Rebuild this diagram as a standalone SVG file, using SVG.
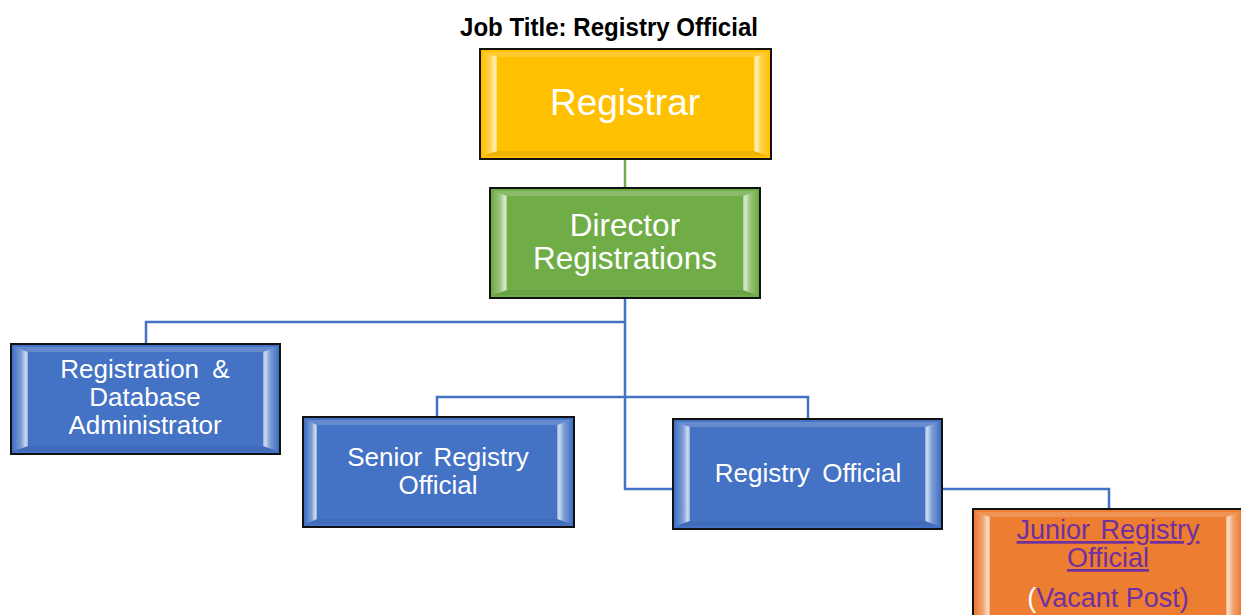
<svg xmlns="http://www.w3.org/2000/svg" width="1241" height="615" viewBox="0 0 1241 615">
<style>
.box{stroke:#111;stroke-width:2}
.yel{fill:#FFC000}.grn{fill:#70AD47}.blu{fill:#4472C4}.org{fill:#ED7D31}
.bl{fill:url(#gl)}.br{fill:url(#gr)}.bt{fill:#fff;fill-opacity:.18}.bb{fill:#000;fill-opacity:.06}
.t{font-family:"Liberation Sans",Arial,sans-serif;fill:#fff;text-anchor:middle}
.jr{font-family:"Liberation Sans",Arial,sans-serif;fill:#7030A0;text-anchor:middle;font-size:27px}
.conn{fill:none;stroke:#4472C4;stroke-width:2.5}
.cg{fill:none;stroke:#70AD47;stroke-width:2.5}
</style>
<defs>
<linearGradient id="gl" x1="0" y1="0" x2="1" y2="0">
<stop offset="0" stop-color="#fff" stop-opacity="0.05"/>
<stop offset="0.5" stop-color="#fff" stop-opacity="0.3"/>
<stop offset="0.85" stop-color="#fff" stop-opacity="0.75"/>
<stop offset="1" stop-color="#fff" stop-opacity="0.4"/>
</linearGradient>
<linearGradient id="gr" x1="1" y1="0" x2="0" y2="0">
<stop offset="0" stop-color="#fff" stop-opacity="0.05"/>
<stop offset="0.5" stop-color="#fff" stop-opacity="0.3"/>
<stop offset="0.85" stop-color="#fff" stop-opacity="0.75"/>
<stop offset="1" stop-color="#fff" stop-opacity="0.4"/>
</linearGradient>
</defs>
<rect width="1241" height="615" fill="#fff"/>
<text x="609" y="36" font-family="'Liberation Sans Narrow','Liberation Sans',Arial,sans-serif" font-weight="bold" font-size="25" text-anchor="middle" textLength="298" lengthAdjust="spacingAndGlyphs">Job Title: Registry Official</text>
<g id="connectors">
<path class="cg" d="M625 159V189"/>
<path class="conn" d="M625 298V489H672M625 322H146V344M625 397H437V417M625 397H808V419M942 489H1109V509"/>
</g>
<g id="registrar">
<rect class="box yel" x="480" y="49" width="291" height="110"/>
<polygon class="bt" points="483,52 768,52 754,57 497,57"/>
<polygon class="bb" points="483,156 768,156 754,151 497,151"/>
<polygon class="bl" points="483,52 497,57 497,151 483,156"/>
<polygon class="br" points="768,52 754,57 754,151 768,156"/>
<text class="t" x="625" y="115" font-size="37">Registrar</text>
</g>
<g id="director">
<rect class="box grn" x="490" y="188" width="270" height="110"/>
<polygon class="bt" points="493,191 757,191 743,196 507,196"/>
<polygon class="bb" points="493,295 757,295 743,290 507,290"/>
<polygon class="bl" points="493,191 507,196 507,290 493,295"/>
<polygon class="br" points="757,191 743,196 743,290 757,295"/>
<text class="t" x="625" y="236" font-size="31.5">Director</text>
<text class="t" x="625" y="269" font-size="31.5">Registrations</text>
</g>
<g id="regdb">
<rect class="box blu" x="11" y="344" width="269" height="110"/>
<polygon class="bt" points="14,347 277,347 263,352 28,352"/>
<polygon class="bb" points="14,451 277,451 263,446 28,446"/>
<polygon class="bl" points="14,347 28,352 28,446 14,451"/>
<polygon class="br" points="277,347 263,352 263,446 277,451"/>
<text class="t" x="145" y="378" font-size="26" word-spacing="6">Registration &amp;</text>
<text class="t" x="145" y="406" font-size="26">Database</text>
<text class="t" x="145" y="434" font-size="26">Administrator</text>
</g>
<g id="senior">
<rect class="box blu" x="303" y="417" width="271" height="110"/>
<polygon class="bt" points="306,420 571,420 557,425 317,425"/>
<polygon class="bb" points="306,524 571,524 557,519 317,519"/>
<polygon class="bl" points="306,420 317,425 317,519 306,524"/>
<polygon class="br" points="571,420 557,425 557,519 571,524"/>
<text class="t" x="438" y="466" font-size="26" word-spacing="4">Senior Registry</text>
<text class="t" x="438" y="494" font-size="26">Official</text>
</g>
<g id="registry">
<rect class="box blu" x="673" y="419" width="269" height="110"/>
<polygon class="bt" points="676,422 939,422 925,427 690,427"/>
<polygon class="bb" points="676,526 939,526 925,521 690,521"/>
<polygon class="bl" points="676,422 690,427 690,521 676,526"/>
<polygon class="br" points="939,422 925,427 925,521 939,526"/>
<text class="t" x="808" y="482" font-size="26" word-spacing="5">Registry Official</text>
</g>
<g id="junior">
<rect class="box org" x="973" y="509" width="270" height="110"/>
<polygon class="bt" points="976,512 1240,512 1226,517 990,517"/>
<polygon class="bl" points="976,512 990,517 990,615 976,615"/>
<polygon class="br" points="1240,512 1226,517 1226,615 1240,615"/>
<text class="jr" x="1108" y="539" text-decoration="underline" word-spacing="3">Junior Registry</text>
<text class="jr" x="1108" y="567" text-decoration="underline">Official</text>
<text class="jr" x="1108" y="607"><tspan fill="#fff">(</tspan>Vacant Post)</text>
</g>
</svg>
